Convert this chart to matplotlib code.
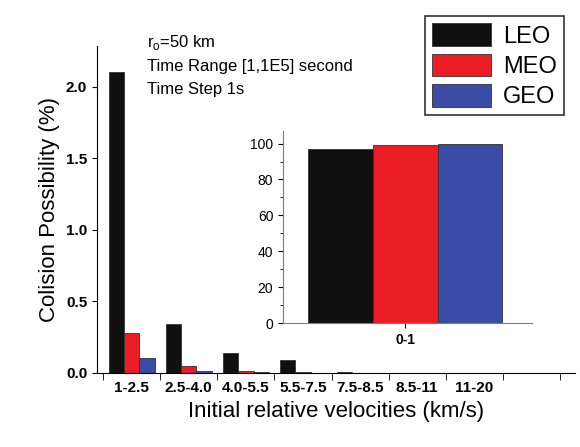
import matplotlib
matplotlib.use("Agg")
import matplotlib.pyplot as plt
import numpy as np

plt.rcParams["font.family"] = ["Liberation Sans", "DejaVu Sans"]

categories = ["1-2.5", "2.5-4.0", "4.0-5.5", "5.5-7.5", "7.5-8.5", "8.5-11", "11-20"]
leo = [2.10, 0.34, 0.14, 0.09, 0.006, 0.0, 0.0]
meo = [0.28, 0.05, 0.01, 0.004, 0.0, 0.0, 0.0]
geo = [0.10, 0.015, 0.003, 0.002, 0.0, 0.0, 0.0]
inset_cat = ["0-1"]
inset_leo = [97.0]
inset_meo = [99.0]
inset_geo = [99.5]
colors = ["#111010", "#ec1c24", "#3a4ca5"]

fig = plt.figure(figsize=(5.8, 4.47), dpi=100)
ax = fig.add_axes([0.167, 0.166, 0.825, 0.73])
x = np.arange(len(categories))
w = 0.27
for i, (vals, c, lab) in enumerate(zip([leo, meo, geo], colors, ["LEO", "MEO", "GEO"])):
    ax.bar(x + (i - 1) * w, vals, w, color=c, edgecolor="#333333", linewidth=0.6, label=lab)
ax.set_xlim(-0.61, 7.77)
ax.set_ylim(0, 2.28)
ax.set_yticks([0, 0.5, 1.0, 1.5, 2.0])
ax.set_yticklabels(["0.0", "0.5", "1.0", "1.5", "2.0"], fontsize=11, fontweight="bold")
ax.set_xticks(x)
ax.set_xticklabels(categories, fontsize=11, fontweight="bold")
ax.set_xticks(np.arange(-0.5, 7.6, 1), minor=True)
ax.tick_params(axis="x", which="major", length=0, pad=6)
ax.tick_params(axis="x", which="minor", length=5)
ax.spines["top"].set_visible(False)
ax.spines["right"].set_visible(False)
ax.set_xlabel("Initial relative velocities (km/s)", fontsize=16)
ax.set_ylabel("Colision Possibility (%)", fontsize=16)
ax.text(147 / 580, 1 - 42 / 447, "r$_\\mathregular{o}$=50 km", transform=fig.transFigure, fontsize=12, va="center")
ax.text(147 / 580, 1 - 66 / 447, "Time Range [1,1E5] second", transform=fig.transFigure, fontsize=12, va="center")
ax.text(147 / 580, 1 - 90 / 447, "Time Step 1s", transform=fig.transFigure, fontsize=12, va="center")

fig.legend(loc="upper left", bbox_to_anchor=(0.712, 0.99), fontsize=17, frameon=True,
           fancybox=False, edgecolor="black", handlelength=2.5, handleheight=1.1,
           borderpad=0.3, labelspacing=0.25, handletextpad=0.5).get_frame().set_linewidth(1.2)

ins = fig.add_axes([0.488, 0.277, 0.43, 0.43])
xi = np.arange(len(inset_cat))
for i, (vals, c) in enumerate(zip([inset_leo, inset_meo, inset_geo], colors)):
    ins.bar(xi + (i - 1) * 0.27, vals, 0.27, color=c, edgecolor="#333333", linewidth=0.6)
ins.set_xlim(-0.51, 0.53)
ins.set_ylim(0, 107)
ins.set_yticks([0, 20, 40, 60, 80, 100])
ins.set_yticks(range(0, 101, 10), minor=True)
ins.tick_params(labelsize=10)
ins.set_xticks(xi)
ins.set_xticklabels(inset_cat, fontsize=10, fontweight="bold")
for s in ["top", "right"]:
    ins.spines[s].set_visible(False)
for s in ["left", "bottom"]:
    ins.spines[s].set_color("#6b8a6b")
fig.savefig("out.png", dpi=100)
